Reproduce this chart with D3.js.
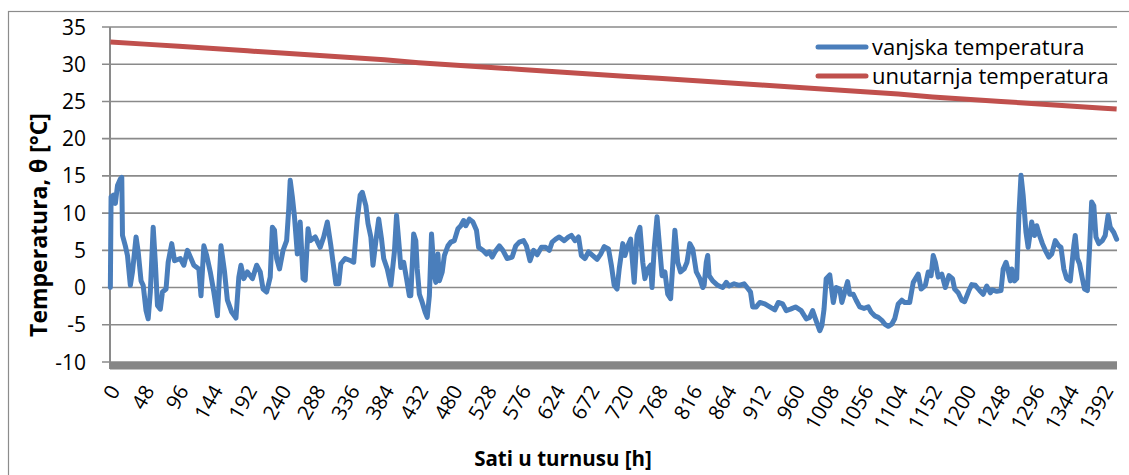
<!DOCTYPE html>
<html>
<head>
<meta charset="utf-8">
<script src="https://cdn.jsdelivr.net/npm/d3@7/dist/d3.min.js"></script>
<style>
    html, body { margin: 0; padding: 0; background: #fff; }
    svg { display: block; }
</style>
</head>
<body>
<div id="chart"></div>
<script>
// Outside temperature (blue): hour -> degC
const outHours = [0, 1, 4, 7, 10, 14, 16, 17, 21, 24, 28, 31, 36, 39, 43, 46, 50, 53, 56, 60, 63, 66, 70, 73, 78, 81, 86, 90, 98, 103, 108, 113, 117, 124, 127, 131, 135, 140, 145, 150, 155, 160, 164, 170, 176, 180, 183, 187, 192, 199, 205, 210, 214, 219, 224, 227, 230, 233, 237, 242, 247, 250, 252, 255, 258, 262, 266, 270, 273, 277, 280, 287, 294, 299, 304, 309, 312, 316, 320, 323, 329, 337, 341, 346, 350, 353, 358, 361, 365, 368, 373, 376, 380, 383, 388, 393, 398, 401, 405, 407, 411, 415, 419, 421, 425, 428, 430, 433, 437, 441, 444, 447, 450, 454, 456, 459, 461, 465, 468, 473, 477, 482, 487, 491, 495, 498, 503, 508, 513, 516, 522, 527, 531, 535, 539, 545, 550, 556, 563, 568, 573, 579, 583, 588, 593, 598, 604, 610, 615, 619, 624, 629, 636, 642, 646, 651, 656, 660, 665, 670, 676, 682, 687, 692, 698, 702, 706, 710, 713, 718, 721, 725, 729, 732, 734, 738, 742, 746, 749, 753, 757, 759, 762, 766, 769, 773, 777, 781, 785, 788, 791, 795, 799, 804, 808, 812, 816, 821, 826, 830, 832, 835, 837, 839, 844, 851, 858, 863, 867, 874, 881, 888, 893, 897, 900, 905, 910, 917, 924, 931, 936, 942, 947, 953, 960, 968, 975, 980, 984, 988, 994, 997, 1000, 1003, 1008, 1013, 1017, 1022, 1025, 1029, 1033, 1036, 1041, 1045, 1050, 1056, 1062, 1066, 1071, 1076, 1081, 1085, 1090, 1095, 1099, 1104, 1109, 1113, 1120, 1125, 1132, 1136, 1142, 1146, 1150, 1153, 1156, 1160, 1165, 1170, 1175, 1180, 1183, 1188, 1193, 1197, 1203, 1207, 1212, 1218, 1223, 1228, 1233, 1236, 1242, 1248, 1251, 1255, 1258, 1261, 1263, 1267, 1270, 1273, 1276, 1279, 1283, 1286, 1289, 1291, 1295, 1298, 1302, 1306, 1310, 1315, 1319, 1324, 1329, 1332, 1336, 1340, 1345, 1350, 1352, 1355, 1358, 1362, 1365, 1369, 1372, 1375, 1378, 1381, 1385, 1390, 1394, 1398, 1401, 1406, 1410];
const outTemps = [0, 12.2, 12.4, 11.3, 13.7, 14.6, 14.8, 7.0, 5.6, 4.3, 0.3, 2.1, 6.8, 4.8, 0.9, 0.3, -3.1, -4.2, -0.6, 8.1, 3.4, -2.4, -2.9, -0.6, -0.2, 3.4, 5.9, 3.6, 3.9, 3.0, 5.0, 3.9, 3.0, 2.5, -1.1, 5.6, 4.3, 2.1, -0.6, -3.8, 5.6, 2.1, -1.7, -3.3, -4.1, 1.4, 3.0, 1.2, 2.1, 1.2, 3.0, 2.1, -0.2, -0.6, 1.4, 8.1, 7.7, 3.9, 2.5, 5.0, 6.3, 10.6, 14.4, 12.2, 9.5, 4.5, 8.8, 1.2, 1.0, 7.9, 6.3, 6.8, 5.4, 6.8, 8.8, 5.6, 3.4, 0.5, 0.5, 3.2, 3.9, 3.6, 3.4, 9.2, 12.4, 12.8, 11.0, 8.6, 6.8, 3.0, 7.0, 9.2, 6.5, 3.9, 2.5, 0.3, 4.8, 9.7, 5.2, 2.7, 3.4, 1.2, -1.1, -1.1, 7.2, 6.3, 2.5, -0.9, -2.0, -3.3, -4.0, -1.1, 7.2, 1.6, 0.7, 4.5, 0.9, 2.1, 4.3, 5.6, 6.1, 6.3, 7.9, 8.3, 9.0, 8.3, 9.2, 8.8, 7.7, 5.4, 5.0, 4.5, 4.8, 4.1, 4.8, 5.6, 5.0, 3.9, 4.1, 5.6, 6.1, 6.3, 5.6, 3.6, 5.0, 4.4, 5.4, 5.4, 5.0, 6.1, 6.5, 6.8, 6.3, 6.8, 7.0, 6.3, 6.8, 4.3, 3.9, 4.8, 4.3, 3.8, 4.5, 5.5, 5.2, 3.0, 0.3, -0.2, 2.5, 5.9, 4.3, 5.6, 6.5, 3.0, 0.7, 7.0, 8.1, 3.4, 1.2, 2.5, 3.0, 0.0, 5.2, 9.5, 6.1, 1.6, 2.1, -0.9, -1.5, 3.0, 7.7, 3.4, 2.1, 2.5, 3.4, 5.9, 5.2, 2.1, 1.2, 0.0, 0.3, 3.4, 4.3, 1.6, 0.9, 0.3, 0.0, 0.7, 0.2, 0.5, 0.3, 0.5, -0.1, -0.6, -2.6, -2.6, -2.0, -2.2, -2.6, -3.0, -2.0, -2.2, -3.1, -2.9, -2.6, -3.1, -4.2, -4.0, -3.1, -4.2, -5.8, -5.1, -2.9, 1.2, 1.7, -2.0, 0.0, -0.2, -2.0, -0.6, 0.8, -0.9, -0.9, -1.7, -2.6, -2.8, -2.6, -3.3, -3.8, -4.0, -4.4, -4.9, -5.2, -4.9, -4.2, -2.2, -1.7, -2.0, -2.0, 0.7, 1.8, -0.2, 0.3, 2.1, 1.6, 4.3, 3.4, 1.4, 1.8, 0.0, 1.6, 1.2, -0.2, -0.7, -1.7, -1.9, -0.4, 0.4, 0.3, -0.4, -0.9, 0.2, -0.7, -0.3, -0.5, -0.4, 2.5, 3.4, 2.3, 0.9, 2.5, 0.9, 1.2, 9.7, 15.1, 12.4, 7.4, 5.4, 7.4, 8.8, 7.0, 8.3, 7.0, 5.9, 5.0, 4.1, 4.5, 6.3, 5.6, 5.4, 2.5, 1.2, 0.9, 5.6, 7.0, 3.9, 3.2, 1.2, -0.2, -0.4, 5.2, 11.5, 11.0, 6.8, 5.9, 6.3, 7.0, 9.7, 8.1, 7.4, 6.5];

// Inside temperature (red)
const inHours = [0, 48, 96, 144, 192, 240, 288, 336, 384, 432, 480, 528, 576, 624, 672, 720, 768, 816, 864, 912, 960, 1008, 1056, 1104, 1152, 1200, 1248, 1296, 1344, 1392, 1410];
const inTemps = [33.0, 32.7, 32.4, 32.1, 31.8, 31.5, 31.2, 30.9, 30.6, 30.2, 29.9, 29.6, 29.3, 29.0, 28.7, 28.4, 28.1, 27.8, 27.5, 27.2, 26.9, 26.6, 26.3, 26.0, 25.6, 25.3, 25.0, 24.7, 24.4, 24.1, 24.0];

const xTicks = d3.range(0, 1393, 48);
const yTicks = [-10, -5, 0, 5, 10, 15, 20, 25, 30, 35];

const seriesNames = ['vanjska temperatura', 'unutarnja temperatura'];
const seriesColors = ['#4A7EBB', '#C0504D'];

const width = 1129;
const height = 475;
const plot = {left: 110, right: 1117, top: 27, bottom: 362};
const FONT = 'Open Sans, sans-serif';
const GRID = '#8a8a8a';

const svg = d3.select('#chart')
    .append('svg')
    .attr('width', width)
    .attr('height', height);

// outer chart frame
svg.append('rect')
    .attr('x', 8.5)
    .attr('y', 11.5)
    .attr('width', 1140)
    .attr('height', 480)
    .attr('fill', 'none')
    .attr('stroke', '#8c8c8c')
    .attr('stroke-width', 1.2);

const xScale = d3.scaleLinear()
    .domain([-0.5, 1410.5])
    .range([plot.left, plot.right]);

const yScale = d3.scaleLinear()
    .domain([-10, 35])
    .range([plot.bottom, plot.top]);

// horizontal gridlines + tick marks
svg.append('g')
    .selectAll('line')
    .data(yTicks)
    .enter()
    .append('line')
    .attr('x1', plot.left - 8)
    .attr('x2', plot.right)
    .attr('y1', d => yScale(d))
    .attr('y2', d => yScale(d))
    .attr('stroke', GRID)
    .attr('stroke-width', 1.6);

// y tick labels
svg.append('g')
    .selectAll('text')
    .data(yTicks)
    .enter()
    .append('text')
    .attr('x', 86)
    .attr('y', d => yScale(d))
    .attr('dy', '0.36em')
    .attr('text-anchor', 'end')
    .style('font-family', FONT)
    .style('font-size', '21px')
    .style('fill', '#000')
    .text(d => d);

// y axis line
svg.append('line')
    .attr('x1', plot.left)
    .attr('x2', plot.left)
    .attr('y1', plot.top)
    .attr('y2', plot.bottom + 7)
    .attr('stroke', GRID)
    .attr('stroke-width', 2);

// thick gray floor under the plot
svg.append('rect')
    .attr('x', plot.left)
    .attr('y', yScale(-10))
    .attr('width', plot.right - plot.left)
    .attr('height', 7.5)
    .attr('fill', '#868686');

// x tick labels, rotated
svg.append('g')
    .selectAll('text')
    .data(xTicks)
    .enter()
    .append('text')
    .attr('transform', d => `translate(${xScale(d) + 4},${387}) rotate(-60)`)
    .attr('text-anchor', 'end')
    .attr('dy', '0.36em')
    .style('font-family', FONT)
    .style('font-size', '20.5px')
    .style('fill', '#000')
    .text(d => d);

const line = d3.line()
    .x(d => xScale(d[0]))
    .y(d => yScale(d[1]));

svg.append('path')
    .datum(inHours.map((h, i) => [h, inTemps[i]]))
    .attr('d', line)
    .attr('fill', 'none')
    .attr('stroke', seriesColors[1])
    .attr('stroke-width', 5)
    .attr('stroke-linejoin', 'round');

svg.append('path')
    .datum(outHours.map((h, i) => [h, outTemps[i]]))
    .attr('d', line)
    .attr('fill', 'none')
    .attr('stroke', seriesColors[0])
    .attr('stroke-width', 5)
    .attr('stroke-linejoin', 'round')
    .attr('stroke-linecap', 'round');

// axis titles
svg.append('text')
    .attr('transform', 'translate(47,225) rotate(-90)')
    .attr('text-anchor', 'middle')
    .style('font-family', FONT)
    .style('font-size', '23px')
    .style('font-weight', 'bold')
    .style('fill', '#000')
    .text('Temperatura,  θ [°C]');

svg.append('text')
    .attr('x', 563)
    .attr('y', 466)
    .attr('text-anchor', 'middle')
    .style('font-family', FONT)
    .style('font-size', '20.5px')
    .style('font-weight', 'bold')
    .style('fill', '#000')
    .text('Sati u turnusu [h]');

// legend
const legend = svg.append('g')
    .attr('transform', 'translate(818,47)');

seriesNames.forEach((name, i) => {
    const y = i * 29;
    legend.append('line')
        .attr('x1', 0)
        .attr('x2', 48)
        .attr('y1', y)
        .attr('y2', y)
        .attr('stroke', seriesColors[i])
        .attr('stroke-width', 5)
        .attr('stroke-linecap', 'round');
    legend.append('text')
        .attr('x', 54)
        .attr('y', y)
        .attr('dy', '0.35em')
        .style('font-family', FONT)
        .style('font-size', '22px')
        .style('fill', '#000')
        .text(name);
});
</script>
</body>
</html>
